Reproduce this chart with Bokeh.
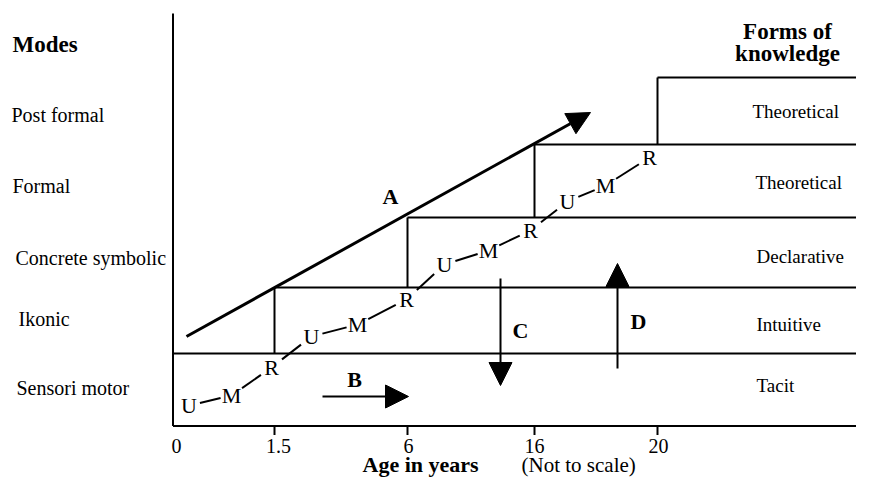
import numpy as np
from bokeh.plotting import figure
from bokeh.models import Range1d, Arrow, NormalHead
from bokeh.core.properties import value
from bokeh.embed import file_html
from bokeh.resources import INLINE

# ---------------- content ----------------
MODES = ["Sensori motor", "Ikonic", "Concrete symbolic", "Formal", "Post formal"]
FORMS = ["Tacit", "Intuitive", "Declarative", "Theoretical", "Theoretical"]
AGE_LABELS = ["0", "1.5", "6", "16", "20"]
CYCLE = ["U", "M", "R"]
N_CYCLES = 4
ARROW_NAMES = ["A", "B", "C", "D"]

# ---------------- layout (diagram coordinates) ----------------
AGE_X = [172.5, 274, 407, 534, 657]           # stage boundaries on the age axis
LEVEL_Y = [425.5, 353, 287, 217, 144, 77]      # mode band boundaries
RIGHT_X = 860
AXIS_TOP = 13
TICK_LEN = 9
TEXT_DY = -8                                   # baseline correction of the text glyph
TICK_LABEL_X = [176, 278, 408, 534, 658]
TICK_LABEL_BASE = 453
CAPTION_BASE = 472
MODE_X = [16, 18, 15, 12, 11]
MODE_BASE = [395, 326, 265, 193, 122]
FORM_X = [756, 756, 756, 755, 752]
FORM_BASE = [393, 332, 264, 190, 119]
UMR_X = [188.5, 231, 271, 311, 357, 406, 444, 488, 530, 567, 605, 649]
UMR_BASE = [413, 403, 375, 344, 332, 307, 272, 258, 238, 209, 193, 165]
ARROW_START = [(186, 336), (322, 396), (500, 278), (617, 368)]
ARROW_END = [(590, 112), (408, 396), (500, 385), (617, 263)]
ARROW_WIDTH = [3, 2, 2, 2]
ARROW_LABEL_POS = [(390, 204), (354, 387), (520, 338), (638, 329)]

SERIF = value("Liberation Serif")


def b(vals):
    return [v + TEXT_DY for v in vals]


p = figure(width=856, height=480, x_range=Range1d(0, 856), y_range=Range1d(480, 0),
           x_axis_type=None, y_axis_type=None, toolbar_location=None,
           output_backend="svg", min_border=0)
p.outline_line_color = None
p.background_fill_color = "white"
p.border_fill_color = "white"

# ---- axes ----
p.segment(x0=[AGE_X[0], AGE_X[0]], y0=[AXIS_TOP, LEVEL_Y[0]],
          x1=[AGE_X[0], RIGHT_X], y1=[LEVEL_Y[0], LEVEL_Y[0]],
          line_color="black", line_width=2)
p.segment(x0=AGE_X[1:], y0=[LEVEL_Y[0]] * 4, x1=AGE_X[1:],
          y1=[LEVEL_Y[0] + TICK_LEN] * 4, line_color="black", line_width=2)
p.text(x=TICK_LABEL_X, y=b([TICK_LABEL_BASE] * 5), text=AGE_LABELS,
       text_font=SERIF, text_font_size="20px", text_align="center",
       text_baseline="alphabetic", text_color="black")
p.text(x=[362], y=b([CAPTION_BASE]), text=["Age in years"], text_font=SERIF,
       text_font_size="22px", text_font_style="bold", text_baseline="alphabetic")
p.text(x=[521], y=b([CAPTION_BASE]), text=["(Not to scale)"], text_font=SERIF,
       text_font_size="21px", text_baseline="alphabetic")

# ---- staircase of modes ----
p.segment(x0=AGE_X[:5], y0=LEVEL_Y[1:6], x1=[RIGHT_X] * 5, y1=LEVEL_Y[1:6],
          line_color="black", line_width=2)
p.segment(x0=AGE_X[1:5], y0=LEVEL_Y[1:5], x1=AGE_X[1:5], y1=LEVEL_Y[2:6],
          line_color="black", line_width=2)

# ---- left labels ----
p.text(x=[12], y=b([52]), text=["Modes"], text_font=SERIF, text_font_size="23px",
       text_font_style="bold", text_baseline="alphabetic")
p.text(x=MODE_X, y=b(MODE_BASE), text=MODES, text_font=SERIF, text_font_size="20px",
       text_baseline="alphabetic")

# ---- right labels ----
p.text(x=[787, 787], y=b([39, 61]), text=["Forms of", "knowledge"], text_font=SERIF,
       text_font_size="23px", text_font_style="bold", text_align="center",
       text_baseline="alphabetic")
p.text(x=FORM_X, y=b(FORM_BASE), text=FORMS, text_font=SERIF, text_font_size="19px",
       text_baseline="alphabetic")

# ---- U-M-R cycles ----
letters = CYCLE * N_CYCLES
p.text(x=UMR_X, y=b(UMR_BASE), text=letters, text_font=SERIF, text_font_size="22px",
       text_align="center", text_baseline="alphabetic")
cx = np.array(UMR_X, dtype=float)
cy = np.array(UMR_BASE, dtype=float) - 8
hw, hh, gap = 8.5, 8.5, 2.5
sx0, sy0, sx1, sy1 = [], [], [], []
for i in range(len(cx) - 1):
    dx, dy = cx[i + 1] - cx[i], cy[i + 1] - cy[i]
    t = min(hw / abs(dx) if dx else 1e9, hh / abs(dy) if dy else 1e9)
    a = t + gap / np.hypot(dx, dy)
    sx0.append(cx[i] + dx * a); sy0.append(cy[i] + dy * a)
    sx1.append(cx[i + 1] - dx * a); sy1.append(cy[i + 1] - dy * a)
p.segment(x0=sx0, y0=sy0, x1=sx1, y1=sy1, line_color="black", line_width=2)

# ---- arrows A-D ----
for (xs, ys), (xe, ye), w in zip(ARROW_START, ARROW_END, ARROW_WIDTH):
    p.add_layout(Arrow(x_start=xs, y_start=ys, x_end=xe, y_end=ye, line_width=w,
                       line_color="black",
                       end=NormalHead(size=23, fill_color="black", line_color="black",
                                      line_width=1)))
p.text(x=[q[0] for q in ARROW_LABEL_POS], y=b([q[1] for q in ARROW_LABEL_POS]),
       text=ARROW_NAMES, text_font=SERIF, text_font_size="22px",
       text_font_style="bold", text_align="center", text_baseline="alphabetic")

open("out.html", "w").write(file_html(p, INLINE))
